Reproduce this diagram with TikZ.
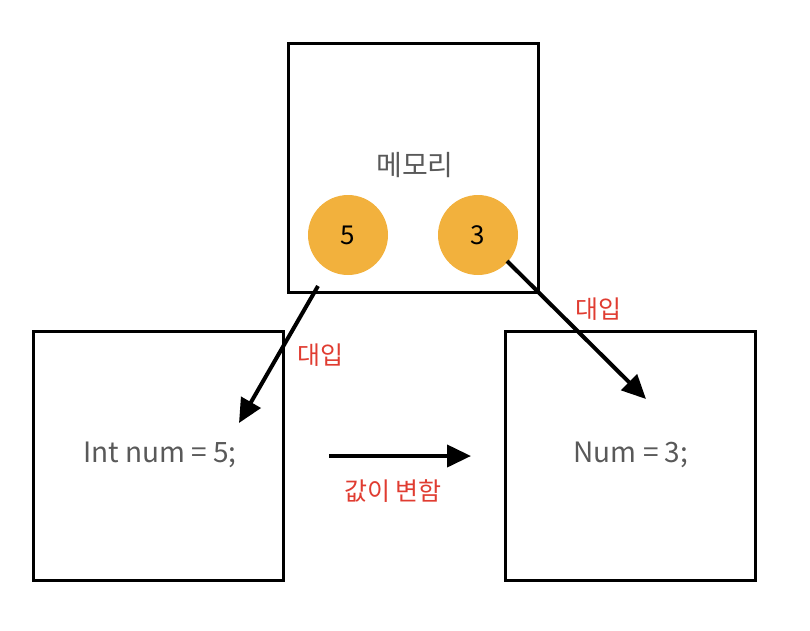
\documentclass[tikz,border=0pt]{standalone}
\usepackage{fontspec}
\setmainfont{Noto Sans CJK KR}
\usetikzlibrary{arrows.meta}
\definecolor{gtext}{HTML}{595959}
\definecolor{rtext}{HTML}{E03C31}
\definecolor{orb}{HTML}{F2B13D}
\begin{document}
\begin{tikzpicture}[x=1pt,y=-1pt,
  boxs/.style={draw=black,line width=3pt,minimum width=250pt,minimum height=249pt,inner sep=0pt},
  ball/.style={circle,fill=orb,minimum size=80pt,inner sep=0pt,font=\fontsize{26}{30}\selectfont},
  lbl/.style={text=rtext,font=\fontsize{25}{30}\selectfont},
  code/.style={text=gtext,font=\fontsize{28}{33}\selectfont},
  arr/.style={line width=4pt,-{Triangle[length=24pt,width=22pt]}}]
\useasboundingbox (0,0) rectangle (810,630);
\node[boxs] (mem) at (413,167.5) {};
\node[boxs] (left) at (158,455.5) {};
\node[boxs] (right) at (630.5,455.5) {};
\node[code] (memt) at (415,165) {메모리};
\node[ball] (b5) at (348,235) {5};
\node[ball] (b3) at (478,235) {3};
\node[code] (lt) at (160,455) {Int num = 5;};
\node[code] (rt) at (631,455) {Num = 3;};
\coordinate (a1s) at (318,286);
\coordinate (a1e) at (239,423);
\coordinate (a2s) at (507,261);
\coordinate (a2e) at (646,399);
\coordinate (a3s) at (329,456);
\coordinate (a3e) at (471,456);
\draw[arr] (a1s) -- (a1e);
\draw[arr] (a2s) -- (a2e);
\draw[arr] (a3s) -- (a3e);
\node[lbl] (l1) at (320,355) {대입};
\node[lbl] (l2) at (598,309) {대입};
\node[lbl] (l3) at (393,491) {값이 변함};
\end{tikzpicture}
\end{document}
